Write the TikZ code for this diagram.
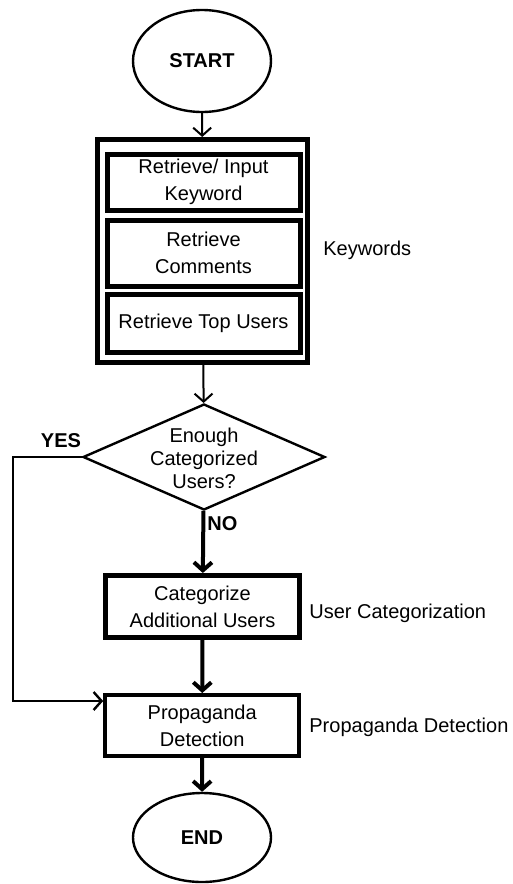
\documentclass[tikz,border=0pt]{standalone}
\usepackage{fontspec}
\setmainfont{Liberation Sans}
\usetikzlibrary{shapes.geometric,arrows.meta}

\begin{document}
\begin{tikzpicture}[x=5pt,y=-5pt,
    txt/.style={font=\fontsize{10}{13.5}\selectfont,align=center,inner sep=0pt},
    bold/.style={font=\fontsize{10}{12}\selectfont\bfseries,inner sep=0pt},
    term/.style={ellipse,draw,line width=1.2pt,minimum width=69pt,inner sep=0pt,bold},
    inbox/.style={rectangle,draw,line width=2.5pt,minimum width=96.5pt,txt},
    stepbox/.style={rectangle,draw,minimum width=97pt,minimum height=31pt,txt},
    flow/.style={-{Straight Barb[length=4pt,width=9pt]},line width=1pt},
    heavyflow/.style={flow,line width=2pt}]
  \useasboundingbox (0,0) rectangle (51.3,88.4);
  % start
  \node[term,minimum height=51pt](start)at(20.2,6.1){START};
  % keyword group
  \node[draw,line width=2.5pt,minimum width=105pt,minimum height=111.5pt](kw)at(20.25,25.1){};
  \node[inbox,minimum height=28pt](kwin)at(20.35,18.2){Retrieve/ Input\\Keyword};
  \node[inbox,minimum height=33pt](kwcom)at(20.35,25.3){Retrieve\\Comments};
  \node[inbox,minimum height=29pt](kwtop)at(20.35,32.3){Retrieve Top Users};
  \node[txt,anchor=west](kwlbl)at(32.3,25.0){Keywords};
  % decision
  \node[diamond,draw,line width=1.2pt,minimum width=121pt,minimum height=53pt,inner sep=0pt](dec)at(20.4,45.7){};
  \node[txt,font=\fontsize{10}{11.5}\selectfont](dectxt)at(20.4,45.8){Enough\\Categorized\\Users?};
  \node[bold](yes)at(6.1,44.1){YES};
  \node[bold,anchor=west](no)at(20.7,52.4){NO};
  % categorization
  \node[stepbox,line width=2.5pt](cat)at(20.25,60.65){Categorize\\Additional Users};
  \node[txt,anchor=west](catlbl)at(30.9,61.3){User Categorization};
  % detection
  \node[stepbox,line width=2pt,minimum height=30.5pt](prop)at(20.22,72.55){Propaganda\\Detection};
  \node[txt,anchor=west](proplbl)at(30.9,72.7){Propaganda Detection};
  % end
  \node[term,minimum height=44.5pt](end)at(20.2,83.75){END};

  \draw[flow](start)--(kw);
  \draw[flow](kw)--(dec);
  \draw[heavyflow](dec)--(cat);
  \draw[heavyflow](cat)--(prop);
  \draw[heavyflow](prop)--(end);
  \draw[flow,line width=1.2pt](dec.west)--++(-6.9,0)|-([yshift=-4pt]prop.north west);
\end{tikzpicture}
\end{document}
